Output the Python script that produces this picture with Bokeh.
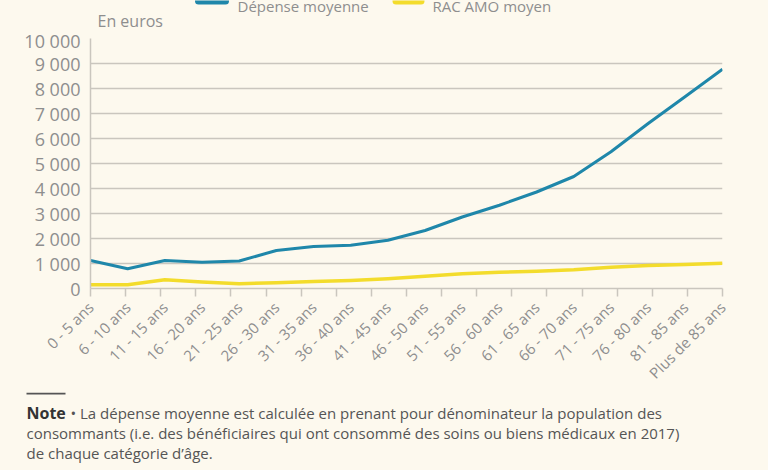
from math import pi
from bokeh.plotting import figure
from bokeh.layouts import column
from bokeh.models import Range1d, FixedTicker, LinearAxis, Grid
from bokeh.core.properties import value
from bokeh.embed import file_html
from bokeh.resources import INLINE

# ---------------- data ----------------
categories = ["0 - 5 ans", "6 - 10 ans", "11 - 15 ans", "16 - 20 ans", "21 - 25 ans",
              "26 - 30 ans", "31 - 35 ans", "36 - 40 ans", "41 - 45 ans", "46 - 50 ans",
              "51 - 55 ans", "56 - 60 ans", "61 - 65 ans", "66 - 70 ans", "71 - 75 ans",
              "76 - 80 ans", "81 - 85 ans", "Plus de 85 ans"]
depense_moyenne = [1120, 790, 1120, 1050, 1100, 1520, 1680, 1730, 1930, 2320,
                   2860, 3330, 3860, 4480, 5470, 6600, 7680, 8770]
rac_amo_moyen = [150, 150, 350, 260, 190, 230, 280, 320, 390, 490,
                 590, 650, 690, 750, 850, 920, 960, 1010]
y_ticks = [0, 1000, 2000, 3000, 4000, 5000, 6000, 7000, 8000, 9000, 10000]
y_tick_labels = ["0", "1 000", "2 000", "3 000", "4 000", "5 000", "6 000",
                 "7 000", "8 000", "9 000", "10 000"]
series_names = ["Dépense moyenne", "RAC AMO moyen"]
unit_label = "En euros"
note_bold = "Note"
note_lines = ["• La dépense moyenne est calculée en prenant pour dénominateur la population des",
              "consommants (i.e. des bénéficiaires qui ont consommé des soins ou biens médicaux en 2017)",
              "de chaque catégorie d’âge."]

# ---------------- style ----------------
BG = "#FDF9EE"
GRID = "#CAC6BE"
BLUE = "#1F87AA"
YELLOW = "#F3DC2C"
TXT = "#8E8E8E"
NOTE = "#555555"
FONT = "Open Sans"

W = 768
TOP_H = 28
LEFT, RIGHT = 90, 46
M_TOP, M_BOTTOM = 10, 104
FRAME_W, FRAME_H = W - LEFT - RIGHT, 250
MAIN_H = M_TOP + FRAME_H + M_BOTTOM
BOT_H = 470 - TOP_H - MAIN_H
n = len(categories)
x_max = n - 1


def strip(height):
    f = figure(width=W, height=height, output_backend="svg", toolbar_location=None,
               x_range=Range1d(0, W), y_range=Range1d(height, 0),
               min_border=0, x_axis_type=None, y_axis_type=None)
    f.frame_align = False
    f.background_fill_color = BG
    f.border_fill_color = BG
    f.outline_line_color = None
    f.grid.visible = False
    return f


# ---------------- top strip: legend + unit ----------------
top = strip(TOP_H)
legend_colors = [BLUE, YELLOW]
sw_x0 = [198, 395.5]
sw_x1 = [225, 420.5]
top.segment(x0=sw_x0, y0=[0.5, 0.5], x1=sw_x1, y1=[0.5, 0.5], line_color=legend_colors,
            line_width=7, line_cap="round")
top.text(x=[237, 432], y=[5.5, 5.5], text=series_names, text_baseline="alphabetic",
         text_font=value(FONT), text_font_size="15px", text_color=TXT)
top.text(x=[97], y=[20], text=[unit_label], text_baseline="middle",
         text_font=value(FONT), text_font_size="16px", text_color=TXT)

# ---------------- main chart ----------------
p = figure(frame_width=FRAME_W, frame_height=FRAME_H, output_backend="svg",
           toolbar_location=None,
           x_range=Range1d(0, x_max), y_range=Range1d(0, 10000),
           min_border_left=LEFT, min_border_right=RIGHT,
           min_border_top=M_TOP, min_border_bottom=M_BOTTOM,
           x_axis_type=None, y_axis_type=None)
p.frame_align = False
p.background_fill_color = BG
p.border_fill_color = BG
p.outline_line_color = None
p.xgrid.visible = False

yax = LinearAxis(ticker=FixedTicker(ticks=y_ticks),
                 major_label_overrides={t: l for t, l in zip(y_ticks, y_tick_labels)})
yax.axis_line_color = GRID
yax.axis_line_width = 1.5
yax.major_tick_line_color = None
yax.major_tick_in = 0
yax.major_tick_out = 0
yax.minor_tick_line_color = None
yax.major_label_text_font = FONT
yax.major_label_text_font_size = "18px"
yax.major_label_text_color = TXT
yax.major_label_standoff = 10
p.add_layout(yax, "left")
p.add_layout(Grid(dimension=1, ticker=yax.ticker, grid_line_color=GRID, grid_line_width=1.5))

tick_pos = [i * x_max / n for i in range(n + 1)]
xax1 = LinearAxis(ticker=FixedTicker(ticks=tick_pos),
                  major_label_overrides={t: "" for t in tick_pos})
xax1.axis_line_color = GRID
xax1.axis_line_width = 1.5
xax1.major_tick_line_color = GRID
xax1.major_tick_line_width = 1.5
xax1.major_tick_in = 0
xax1.major_tick_out = 8
xax1.minor_tick_line_color = None
xax1.major_label_text_font_size = "1px"
xax1.major_label_standoff = 0
p.add_layout(xax1, "below")

xax2 = LinearAxis(ticker=FixedTicker(ticks=list(range(n))),
                  major_label_overrides={i: c for i, c in enumerate(categories)})
xax2.axis_line_color = None
xax2.major_tick_line_color = None
xax2.minor_tick_line_color = None
xax2.major_tick_in = 0
xax2.major_tick_out = 0
xax2.major_label_orientation = pi / 4
xax2.major_label_text_font = FONT
xax2.major_label_text_font_size = "15px"
xax2.major_label_text_color = TXT
xax2.major_label_standoff = 8
p.add_layout(xax2, "below")

xs = list(range(n))
p.line(xs, depense_moyenne, line_color=BLUE, line_width=3, line_join="round")
p.line(xs, rac_amo_moyen, line_color=YELLOW, line_width=3.5, line_join="round")

# ---------------- bottom strip: note ----------------
bot = strip(BOT_H)
y0 = max(393 - TOP_H - MAIN_H, 1)
bot.segment(x0=[26], y0=[y0], x1=[65], y1=[y0], line_color=NOTE, line_width=2)
bot.text(x=[26], y=[y0 + 19], text=[note_bold], text_baseline="middle",
         text_font=value(FONT), text_font_style="bold", text_font_size="16px",
         text_color="#333333")
bot.text(x=[70, 26, 26], y=[y0 + 19, y0 + 39, y0 + 59], text=note_lines,
         text_baseline="middle", text_font=value(FONT), text_font_size="15px",
         text_color=NOTE)

layout = column(top, p, bot, spacing=0)
layout.background = BG
open("out.html", "w").write(file_html(layout, INLINE))
